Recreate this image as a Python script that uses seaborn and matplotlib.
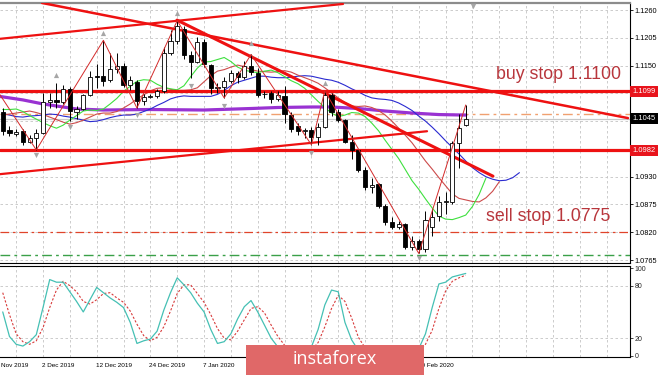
import numpy as np
import pandas as pd
import matplotlib
matplotlib.use("Agg")
import matplotlib.pyplot as plt
import matplotlib.transforms as mtransforms
from matplotlib.patches import Rectangle
import seaborn as sns

sns.set_style("white")
plt.rcParams["font.family"] = ["Liberation Sans", "DejaVu Sans"]

# ---------------- data ----------------
bar_index = list(range(-6, 64))          # daily bars, 0 = 2 Dec 2019
opens = [1.1058, 1.1022, 1.1015, 1.1020, 1.0998, 1.1007,
         1.1017, 1.1078, 1.1082, 1.1077, 1.1104, 1.1059, 1.1065, 1.1092, 1.1130, 1.1130,
         1.1122, 1.1143, 1.1150, 1.1111, 1.1118, 1.1080, 1.1088, 1.1090, 1.1100, 1.1175,
         1.1198, 1.1223, 1.1171, 1.1158, 1.1196, 1.1152, 1.1106, 1.1108, 1.1120, 1.1135,
         1.1127, 1.1150, 1.1136, 1.1093, 1.1095, 1.1083, 1.1090, 1.1053, 1.1030, 1.1020,
         1.1023, 1.1008, 1.1028, 1.1092, 1.1058, 1.1043, 1.0998, 1.0983, 1.0944, 1.0910,
         1.0915, 1.0872, 1.0840, 1.0830, 1.0836, 1.0790, 1.0803, 1.0786, 1.0830, 1.0853,
         1.0880, 1.0880, 1.0997, 1.1032]
highs = [1.1066, 1.1030, 1.1024, 1.1024, 1.1012, 1.1025,
         1.1096, 1.1096, 1.1116, 1.1111, 1.1108, 1.1069, 1.1094, 1.1139, 1.1154, 1.1200,
         1.1175, 1.1175, 1.1155, 1.1130, 1.1122, 1.1093, 1.1094, 1.1104, 1.1187, 1.1220,
         1.1239, 1.1229, 1.1178, 1.1206, 1.1203, 1.1154, 1.1116, 1.1127, 1.1142, 1.1139,
         1.1160, 1.1172, 1.1145, 1.1099, 1.1100, 1.1100, 1.1110, 1.1058, 1.1036, 1.1027,
         1.1028, 1.1036, 1.1100, 1.1096, 1.1064, 1.1045, 1.1012, 1.0985, 1.0950, 1.0928,
         1.0918, 1.0876, 1.0850, 1.0842, 1.0838, 1.0812, 1.0806, 1.0862, 1.0866, 1.0892,
         1.0900, 1.1000, 1.1054, 1.1072]
lows = [1.1012, 1.1010, 1.1010, 1.0993, 1.0996, 1.0983,
        1.1015, 1.1066, 1.1066, 1.1074, 1.1040, 1.1044, 1.1062, 1.1090, 1.1106, 1.1110,
        1.1118, 1.1135, 1.1107, 1.1102, 1.1066, 1.1072, 1.1085, 1.1086, 1.1096, 1.1170,
        1.1192, 1.1164, 1.1126, 1.1156, 1.1148, 1.1093, 1.1096, 1.1086, 1.1116, 1.1115,
        1.1123, 1.1132, 1.1088, 1.1085, 1.1076, 1.1080, 1.1036, 1.1018, 1.1012, 1.1006,
        1.0993, 1.0993, 1.1026, 1.1050, 1.1038, 1.0996, 1.0965, 1.0939, 1.0904, 1.0898,
        1.0868, 1.0835, 1.0826, 1.0826, 1.0786, 1.0785, 1.0778, 1.0781, 1.0812, 1.0842,
        1.0856, 1.0876, 1.0948, 1.1030]
closes = [1.1020, 1.1016, 1.1019, 1.0998, 1.1006, 1.1016,
          1.1078, 1.1082, 1.1077, 1.1104, 1.1060, 1.1065, 1.1092, 1.1128, 1.1128, 1.1120,
          1.1143, 1.1150, 1.1111, 1.1121, 1.1080, 1.1088, 1.1090, 1.1100, 1.1175, 1.1198,
          1.1228, 1.1171, 1.1158, 1.1196, 1.1154, 1.1106, 1.1108, 1.1120, 1.1135, 1.1127,
          1.1150, 1.1137, 1.1091, 1.1094, 1.1083, 1.1092, 1.1054, 1.1024, 1.1020, 1.1022,
          1.1008, 1.1028, 1.1092, 1.1058, 1.1043, 1.0998, 1.0983, 1.0944, 1.0910, 1.0914,
          1.0872, 1.0840, 1.0830, 1.0836, 1.0790, 1.0803, 1.0786, 1.0845, 1.0851, 1.0880,
          1.0881, 1.0997, 1.1026, 1.1045]

# Alligator lines (shifted forward), one value per bar starting at bar -6
lips_green = [1.1063, 1.1063, 1.1064, 1.1059, 1.1051, 1.1044, 1.1037, 1.1031, 1.1026, 1.1032,
              1.1042, 1.1051, 1.1060, 1.1062, 1.1061, 1.1064, 1.1074, 1.1085, 1.1099, 1.1109,
              1.1119, 1.1122, 1.1121, 1.1113, 1.1107, 1.1104, 1.1102, 1.1110, 1.1128, 1.1145,
              1.1157, 1.1158, 1.1162, 1.1166, 1.1158, 1.1147, 1.1141, 1.1138, 1.1136, 1.1139,
              1.1141, 1.1136, 1.1128, 1.1120, 1.1114, 1.1105, 1.1092, 1.1079, 1.1067, 1.1056,
              1.1049, 1.1052, 1.1057, 1.1056, 1.1049, 1.1036, 1.1021, 1.1002, 1.0984, 1.0966,
              1.0944, 1.0922, 1.0905, 1.0886, 1.0868, 1.0852, 1.0846, 1.0845, 1.0849, 1.0854,
              1.0871, 1.0895, 1.0927]
teeth_red = [1.1052, 1.1054, 1.1056, 1.1058, 1.1060, 1.1057, 1.1053, 1.1048, 1.1043, 1.1038,
             1.1034, 1.1037, 1.1042, 1.1048, 1.1054, 1.1056, 1.1056, 1.1059, 1.1066, 1.1074,
             1.1084, 1.1092, 1.1100, 1.1105, 1.1106, 1.1103, 1.1101, 1.1101, 1.1102, 1.1106,
             1.1118, 1.1130, 1.1139, 1.1142, 1.1147, 1.1151, 1.1148, 1.1142, 1.1139, 1.1138,
             1.1137, 1.1138, 1.1140, 1.1137, 1.1131, 1.1126, 1.1121, 1.1115, 1.1106, 1.1096,
             1.1086, 1.1077, 1.1070, 1.1069, 1.1070, 1.1067, 1.1061, 1.1052, 1.1040, 1.1026,
             1.1012, 1.0997, 1.0979, 1.0961, 1.0945, 1.0928, 1.0912, 1.0896, 1.0887, 1.0884,
             1.0881, 1.0880, 1.0888, 1.0901, 1.0920]
jaw_blue = [1.1055, 1.1052, 1.1049, 1.1048, 1.1050, 1.1051, 1.1052, 1.1054, 1.1053, 1.1050,
            1.1048, 1.1045, 1.1042, 1.1039, 1.1040, 1.1043, 1.1047, 1.1050, 1.1052, 1.1052,
            1.1054, 1.1059, 1.1064, 1.1071, 1.1077, 1.1084, 1.1088, 1.1090, 1.1089, 1.1089,
            1.1089, 1.1089, 1.1093, 1.1101, 1.1110, 1.1117, 1.1121, 1.1125, 1.1129, 1.1129,
            1.1127, 1.1126, 1.1126, 1.1127, 1.1129, 1.1130, 1.1129, 1.1126, 1.1123, 1.1121,
            1.1117, 1.1111, 1.1104, 1.1098, 1.1091, 1.1086, 1.1084, 1.1083, 1.1081, 1.1076,
            1.1069, 1.1061, 1.1050, 1.1040, 1.1028, 1.1015, 1.1001, 1.0988, 1.0975, 1.0961,
            1.0948, 1.0938, 1.0930, 1.0925, 1.0922, 1.0923, 1.0928, 1.0938]

# long moving average (purple)
purple_idx = [-7, -3, 0, 3, 5, 9, 16, 24, 31, 35, 40, 43, 47, 51, 55, 59, 63]
purple_val = [1.1090, 1.1082, 1.1074, 1.1068, 1.1064, 1.1062, 1.1063, 1.1062, 1.1065,
              1.1067, 1.1068, 1.1068, 1.1065, 1.1060, 1.1056, 1.1053, 1.1052]

# zigzag
zz_idx = [-7, -1, 9, 14, 20, 27, 31, 40, 42, 56, 63]
zz_val = [1.1104, 1.0983, 1.1200, 1.1066, 1.1239, 1.1086, 1.1172, 1.0993, 1.1100, 1.0778, 1.1072]

# fractals
frac_up_idx = [2, 9, 20, 31, 42]
frac_up_val = [1.1131, 1.1214, 1.1254, 1.1195, 1.1115]
frac_dn_idx = [-1, 4, 14, 22, 27, 40, 56]
frac_dn_val = [1.0973, 1.1028, 1.1052, 1.1110, 1.1070, 1.0977, 1.0769]

# trend lines (two points each)
trend_a_x, trend_a_y = [-6.41, 44.71], [1.1203, 1.1272]
trend_b_x, trend_b_y = [-0.15, 87.18], [1.1274, 1.1046]
trend_c_x, trend_c_y = [19.97, 67.06], [1.1240, 1.0931]
trend_d_x, trend_d_y = [-6.41, 57.23], [1.0935, 1.1020]

# horizontal levels
level_buy = 1.1099
level_sell = 1.0982
level_orange = 1.1054
level_bid = 1.1045
level_red_dd = 1.0820
level_green_dd = 1.0775

# stochastic
stoch_main = [50, 22, 13, 11, 16, 24, 55, 87, 84, 84, 73, 62, 50, 64, 78, 72, 66, 61, 55, 38,
              14, 17, 19, 28, 52, 72, 89, 81, 72, 60, 50, 30, 14, 16, 25, 42, 56, 63, 50, 35,
              20, 10, 5, 3, 4, 5, 10, 30, 58, 75, 73, 38, 18, 6, 4, 5, 4, 3, 4, 5,
              3, 5, 8, 25, 55, 82, 84, 90, 92, 94]
stoch_signal = [72, 47, 25, 16, 13, 17, 32, 55, 75, 85, 80, 73, 62, 59, 64, 71, 72, 66, 61, 51,
                36, 23, 17, 21, 33, 51, 71, 81, 81, 71, 61, 47, 31, 20, 18, 28, 41, 54, 56, 49,
                35, 22, 12, 6, 4, 4, 6, 15, 33, 54, 69, 62, 43, 21, 9, 5, 4, 4, 4, 4,
                4, 4, 5, 13, 29, 54, 74, 85, 89, 92]

# visible date labels (the others are hidden by the watermark in the reference)
date_ticks = [-6.4, 0, 8, 16, 24, 56]
date_labels = ["Nov 2019", "2 Dec 2019", "12 Dec 2019", "24 Dec 2019", "7 Jan 2020", "20 Feb 2020"]
price_ticks = [1.0765, 1.0820, 1.0875, 1.0930, 1.0985, 1.1040, 1.1095, 1.1150, 1.1205, 1.1260]
price_tick_labels = ["1.0765", "1.0820", "1.0875", "1.0930", "", "", "", "1.1150", "1.1205", "1.1260"]
stoch_ticks = [0, 20, 80, 100]

# ---------------- figure ----------------
W, H = 665, 375
fig = plt.figure(figsize=(W / 100, H / 100), dpi=100)
fig.patch.set_facecolor("white")
ax = fig.add_axes([0, 1 - 263 / H, 630 / W, 260 / H])
ax2 = fig.add_axes([0, 1 - 357 / H, 630 / W, 91 / H], sharex=ax)

xmin, xmax = -6.41, 87.48
ax.set_xlim(xmin, xmax)
ax.set_ylim(1.07591, 1.12739)
ax2.set_ylim(-1.5, 102.5)

grid_kw = dict(color="#c4c4c4", lw=0.6, ls=(0, (3, 3)), zorder=0.5)
for k in range(-4, 90, 4):
    ax.axvline(k, **grid_kw)
    ax2.axvline(k, **grid_kw)
for p in price_ticks:
    ax.axhline(p, **grid_kw)
for s in (20, 80):
    ax2.axhline(s, **grid_kw)

# horizontal dash-dot levels
ax.axhline(level_orange, color="#f0a070", lw=1.0, ls=(0, (7, 3, 2, 3)), zorder=1)
ax.axhline(level_bid, color="#c8c8c8", lw=0.9, zorder=1)
ax.axhline(level_red_dd, color="#e0442a", lw=0.9, ls=(0, (7, 3, 2, 3)), zorder=1)
ax.axhline(level_green_dd, color="#3aa048", lw=1.0, ls=(0, (7, 3, 2, 3)), zorder=1)

# purple long MA
sns.lineplot(x=purple_idx, y=purple_val, ax=ax, color="#9932d2", linewidth=2.3,
             sort=False, estimator=None, zorder=2)

# alligator
def bars_from(start, n):
    return list(range(start, start + n))

sns.lineplot(x=bars_from(-6, len(jaw_blue)), y=jaw_blue, ax=ax, color="#2a2ad0",
             linewidth=0.8, sort=False, estimator=None, zorder=2.5)
sns.lineplot(x=bars_from(-6, len(teeth_red)), y=teeth_red, ax=ax, color="#cc4a4a",
             linewidth=0.8, sort=False, estimator=None, zorder=2.5)
sns.lineplot(x=bars_from(-6, len(lips_green)), y=lips_green, ax=ax, color="#3ee03e",
             linewidth=0.8, sort=False, estimator=None, zorder=2.5)

# thick red horizontal levels and trend lines
red = "#ee1111"
ax.axhline(level_buy, color=red, lw=2.3, zorder=3)
ax.axhline(level_sell, color=red, lw=2.3, zorder=3)
ax.plot(trend_a_x, trend_a_y, color=red, lw=1.6, zorder=3)
ax.plot(trend_b_x, trend_b_y, color=red, lw=1.8, zorder=3)
ax.plot(trend_c_x, trend_c_y, color=red, lw=2.2, zorder=3)
ax.plot(trend_d_x, trend_d_y, color=red, lw=1.6, zorder=3)

# candles
o = np.array(opens); c = np.array(closes); h = np.array(highs); l = np.array(lows)
xi = np.array(bar_index)
ax.vlines(xi, l, h, color="black", lw=0.7, zorder=3.9)
bull = c >= o
body_lo = np.minimum(o, c)
body_h = np.maximum(np.abs(c - o), 0.00004)
ax.bar(xi[bull], body_h[bull], bottom=body_lo[bull], width=0.62, color="white",
       edgecolor="black", linewidth=0.6, zorder=4)
ax.bar(xi[~bull], body_h[~bull], bottom=body_lo[~bull], width=0.62, color="black",
       edgecolor="black", linewidth=0.6, zorder=4)

# zigzag
sns.lineplot(x=zz_idx, y=zz_val, ax=ax, color="#d42a2a", linewidth=0.7,
             sort=False, estimator=None, zorder=4.5)

# fractals
ax.scatter(frac_up_idx, frac_up_val, marker="^", s=14, color="#a6a6a6", zorder=5, linewidths=0)
ax.scatter(frac_dn_idx, frac_dn_val, marker="v", s=14, color="#a6a6a6", zorder=5, linewidths=0)
ax.scatter([64.1], [1.1268], marker="v", s=16, color="#a6a6a6", zorder=5, linewidths=0, clip_on=False)

# annotations
ax.text(67.5, 1.1132, "buy stop 1.1100", color="#b8363c", fontsize=12.8,
        ha="left", va="center", zorder=6)
ax.text(66.0, 1.0852, "sell stop 1.0775", color="#b8363c", fontsize=12.8,
        ha="left", va="center", zorder=6)

# axes styling (main)
ax.yaxis.tick_right()
ax.set_yticks(price_ticks)
ax.set_yticklabels(price_tick_labels)
ax.tick_params(axis="y", length=2, width=0.6, pad=1.5, labelsize=5.3, colors="black")
ax.tick_params(axis="x", bottom=False, labelbottom=False)
ax.set_xlabel(""); ax.set_ylabel("")
for side, sp in ax.spines.items():
    sp.set_color("black"); sp.set_linewidth(0.8)
ax.spines["top"].set_color("#8c8c8c"); ax.spines["top"].set_linewidth(1.6)
ax.spines["left"].set_visible(False)

ytr = ax.get_yaxis_transform()
for val, txt, fc in [(level_buy, "1.1099", "#e8141c"), (level_bid, "1.1045", "black"),
                     (level_sell, "1.0982", "#e8141c")]:
    ax.annotate(txt, xy=(1.0, val), xycoords=ytr, xytext=(1.8, 0), textcoords="offset points",
                ha="left", va="center", fontsize=5.4, color="white", annotation_clip=False,
                bbox=dict(boxstyle="square,pad=0.3", fc=fc, ec="none"), zorder=7)

# stochastic panel
sns.lineplot(x=bar_index, y=stoch_signal, ax=ax2, color="#d83a3a", linewidth=0.8,
             linestyle=(0, (2, 1.6)), sort=False, estimator=None, zorder=3)
sns.lineplot(x=bar_index, y=stoch_main, ax=ax2, color="#45c0b4", linewidth=0.9,
             sort=False, estimator=None, zorder=3)
ax2.yaxis.tick_right()
ax2.set_yticks(stoch_ticks)
ax2.set_yticklabels([str(t) for t in stoch_ticks])
ax2.tick_params(axis="y", length=2, width=0.6, pad=1.5, labelsize=5.0)
ax2.tick_params(axis="x", bottom=False, labelbottom=False)
ax2.set_xlabel(""); ax2.set_ylabel("")
for sp in ax2.spines.values():
    sp.set_color("black"); sp.set_linewidth(0.8)
ax2.spines["left"].set_visible(False)
ax2.set_xlim(xmin, xmax)

btr = mtransforms.blended_transform_factory(ax2.transData, ax2.transAxes)
for t, lab in zip(date_ticks, date_labels):
    ax2.text(t - 0.15 if t > -6 else t + 0.1, -0.088, lab, transform=btr, ha="left", va="center",
             fontsize=4.6, color="black", clip_on=False, zorder=1)

# instaforex watermark
fig.add_artist(Rectangle((246 / W, 0), (424 - 246) / W, 30.5 / H, transform=fig.transFigure,
                         facecolor="#e06868", edgecolor="none", zorder=20))
fig.text(335 / W, 1 - 359.5 / H, "instaforex", color="white", fontsize=13,
         family=["Open Sans", "DejaVu Sans"], ha="center", va="center", zorder=21)

fig.savefig("out.png", dpi=100)
